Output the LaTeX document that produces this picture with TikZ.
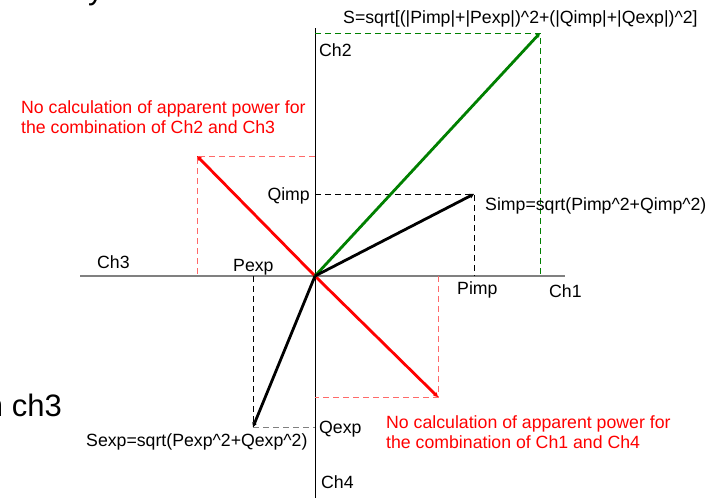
\documentclass[tikz,border=0pt]{standalone}
\usepackage{fontspec}
\setmainfont{Liberation Sans}
\usetikzlibrary{arrows.meta}
\definecolor{vecgreen}{RGB}{0,128,0}
\definecolor{guidered}{RGB}{255,105,105}
\begin{document}
\begin{tikzpicture}[x=1pt, y=-1pt,
  every node/.style={font=\fontsize{17.7}{20}\selectfont, inner sep=0pt, anchor=base west},
  vec/.style={line width=2.8pt, -{Stealth[length=4.5pt,width=5pt]}},
  guide/.style={line width=1pt, dash pattern=on 6pt off 4pt},
  note/.style={red, align=left},
  big/.style={font=\fontsize{31}{34}\selectfont}]
\useasboundingbox (0,0) rectangle (717,498);
% axes
\coordinate (O) at (315,276);
\coordinate (ch3end) at (80,276);
\coordinate (ch1end) at (565,276);
\coordinate (ch2end) at (315,28);
\coordinate (ch4end) at (315,498);
\draw[gray, line width=1.6pt] (ch3end) -- (ch1end);
\draw[line width=1pt] (ch2end) -- (ch4end);
% end points of the vectors
\coordinate (S) at (540,33);
\coordinate (Simp) at (474,194);
\coordinate (Sexp) at (253,427);
\coordinate (R23) at (197,156);
\coordinate (R14) at (438,397);
% projections
\draw[guide, vecgreen] (O |- S) -- (S) -- (S |- O);
\draw[guide] (O |- Simp) -- (Simp) -- (Simp |- O);
\draw[guide] (Sexp |- O) -- (Sexp);
\draw[guide, gray] (Sexp) -- (O |- Sexp);
\draw[guide, guidered] (O |- R23) -- (R23) -- (R23 |- O);
\draw[guide, guidered] (R14 |- O) -- (R14) -- (O |- R14);
% vectors
\draw[vec, red] (O) -- (R23);
\draw[vec, red] (O) -- (R14);
\draw[vec, vecgreen] (O) -- (S);
\draw[vec] (O) -- (Simp);
\draw[vec] (O) -- (Sexp);
% labels
\node (lS) at (343,23) {S=sqrt[(|Pimp|+|Pexp|)\^{}2+(|Qimp|+|Qexp|)\^{}2]};
\node (lch2) at (319,56) {Ch2};
\node (lch1) at (549,297) {Ch1};
\node (lch3) at (97,268) {Ch3};
\node (lch4) at (321,488) {Ch4};
\node[anchor=base east] (lqimp) at (310,200) {Qimp};
\node (lsimp) at (485,210) {Simp=sqrt(Pimp\^{}2+Qimp\^{}2)};
\node (lpexp) at (233,271) {Pexp};
\node (lpimp) at (457,294) {Pimp};
\node (lqexp) at (319,433) {Qexp};
\node (lsexp) at (86,446) {Sexp=sqrt(Pexp\^{}2+Qexp\^{}2)};
\node[note] (n23) at (21,133) {No calculation of apparent power for\\the combination of Ch2 and Ch3};
\node[note] (n14) at (386,448) {No calculation of apparent power for\\the combination of Ch1 and Ch4};
% cut-off slide text
\node[big, anchor=base east] (side) at (62,416) {n ch3};
\node[big] (top) at (88,-1) {y};
\end{tikzpicture}
\end{document}
